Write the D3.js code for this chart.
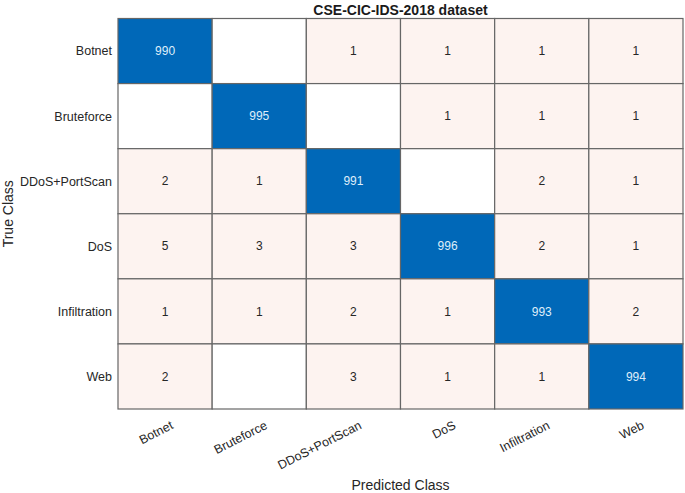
<!DOCTYPE html>
<html>
<head>
<meta charset="utf-8">
<script src="https://cdn.jsdelivr.net/npm/d3@7"></script>
<style>
body { margin: 0; background: #fff; }
text { font-family: "Liberation Sans", Arial, sans-serif; }
</style>
</head>
<body>
<div id="chart"></div>
<script>
var svgWidth = 685;
var svgHeight = 493;

var margin = { top: 18.5, right: 2, bottom: 84, left: 118 };
var width = svgWidth - margin.left - margin.right;
var height = svgHeight - margin.top - margin.bottom;

// classes (rows = true, cols = predicted)
var classes = ["Botnet", "Bruteforce", "DDoS+PortScan", "DoS", "Infiltration", "Web"];

// counts per true class row, 0 = empty cell
var botnetRow = [990, 0, 1, 1, 1, 1];
var bruteforceRow = [0, 995, 0, 1, 1, 1];
var ddosRow = [2, 1, 991, 0, 2, 1];
var dosRow = [5, 3, 3, 996, 2, 1];
var infiltrationRow = [1, 1, 2, 1, 993, 2];
var webRow = [2, 0, 3, 1, 1, 994];

var rows = [botnetRow, bruteforceRow, ddosRow, dosRow, infiltrationRow, webRow];

var cells = [];
rows.forEach(function(r, i) {
  r.forEach(function(v, j) {
    cells.push({ trueC: classes[i], predC: classes[j], value: v, diag: i === j });
  });
});

var svg = d3.select("#chart")
  .append("svg")
  .attr("width", svgWidth)
  .attr("height", svgHeight);

var chartGroup = svg.append("g")
  .attr("transform", `translate(${margin.left}, ${margin.top})`);

var x = d3.scaleBand().domain(classes).range([0, width]);
var y = d3.scaleBand().domain(classes).range([0, height]);

function fillColor(d) {
  if (d.value === 0) return "#ffffff";
  return d.diag ? "#0068b8" : "#fdf3f0";
}

chartGroup.selectAll("rect.cell")
  .data(cells)
  .enter()
  .append("rect")
  .attr("class", "cell")
  .attr("x", d => x(d.predC))
  .attr("y", d => y(d.trueC))
  .attr("width", x.bandwidth())
  .attr("height", y.bandwidth())
  .attr("fill", fillColor)
  .attr("stroke", "#666")
  .attr("stroke-width", 1.2);

chartGroup.selectAll("text.val")
  .data(cells.filter(d => d.value > 0))
  .enter()
  .append("text")
  .attr("class", "val")
  .attr("x", d => x(d.predC) + x.bandwidth() / 2)
  .attr("y", d => y(d.trueC) + y.bandwidth() / 2)
  .attr("dy", "0.35em")
  .attr("text-anchor", "middle")
  .attr("font-size", "12px")
  .attr("fill", d => d.diag ? "#dfeefa" : "#262626")
  .text(d => d.value);

// y tick labels
chartGroup.selectAll("text.ylab")
  .data(classes)
  .enter()
  .append("text")
  .attr("class", "ylab")
  .attr("x", -6)
  .attr("y", d => y(d) + y.bandwidth() / 2)
  .attr("dy", "0.35em")
  .attr("text-anchor", "end")
  .attr("font-size", "12.5px")
  .attr("fill", "#262626")
  .text(d => d);

// x tick labels, rotated
chartGroup.selectAll("text.xlab")
  .data(classes)
  .enter()
  .append("text")
  .attr("class", "xlab")
  .attr("transform", d => `translate(${x(d) + x.bandwidth() / 2 + 9}, ${height + 19}) rotate(-27)`)
  .attr("text-anchor", "end")
  .attr("font-size", "12.5px")
  .attr("fill", "#262626")
  .text(d => d);

// axis labels
chartGroup.append("text")
  .attr("transform", `translate(${width / 2}, ${height + 81})`)
  .attr("text-anchor", "middle")
  .attr("font-size", "14px")
  .attr("fill", "#262626")
  .text("Predicted Class");

chartGroup.append("text")
  .attr("transform", `translate(${-margin.left + 13}, ${height / 2}) rotate(-90)`)
  .attr("text-anchor", "middle")
  .attr("font-size", "14px")
  .attr("fill", "#262626")
  .text("True Class");

// title
chartGroup.append("text")
  .attr("x", width / 2)
  .attr("y", -4)
  .attr("text-anchor", "middle")
  .attr("font-size", "14px")
  .attr("font-weight", "bold")
  .attr("fill", "#1a1a1a")
  .text("CSE-CIC-IDS-2018 dataset");
</script>
</body>
</html>
